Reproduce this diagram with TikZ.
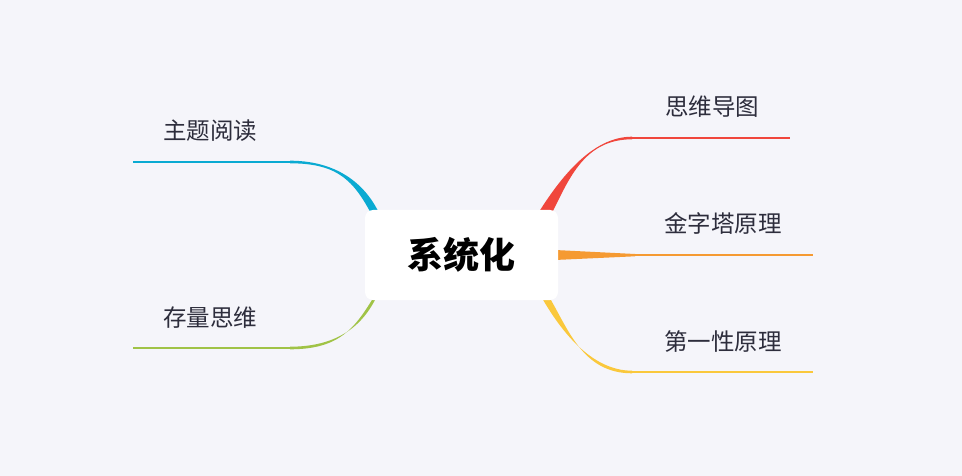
\documentclass[tikz,border=0pt]{standalone}
\usepackage{fontspec}
\setmainfont{Noto Sans CJK SC}
\definecolor{bg}{HTML}{F5F5FA}
\definecolor{cred}{HTML}{F0463C}
\definecolor{corange}{HTML}{F59A32}
\definecolor{cyellow}{HTML}{FAC83C}
\definecolor{cblue}{HTML}{0AAAD2}
\definecolor{cgreen}{HTML}{A0C346}
\definecolor{ctext}{HTML}{2D2D3C}
\newcommand{\branch}[6]{% colour, start, bend end, line end, direction, start bend dir
  \fill[#1] ($(#2)+(-3,-3)$) .. controls ($(#2)+(#5*20,#6*40)$) and ($(#3)+(-#5*40,-1.3)$) .. ($(#3)+(0,-1.3)$)
    -- ($(#3)+(0,1.3)$) .. controls ($(#3)+(-#5*50,1.3)$) and ($(#2)+(#5*28,#6*36)$) .. ($(#2)+(#5*8,3)$) -- cycle;
  \draw[#1,line width=2.6] (#3) -- (#4);}
\begin{document}
\begin{tikzpicture}[x=1pt,y=-1pt,
  topic/.style={font=\fontsize{23.5}{28}\selectfont,text=ctext,anchor=base}]
\usetikzlibrary{calc}
\fill[bg] (0,0) rectangle (962,476);

% right side
\coordinate (rs1) at (540,218); \coordinate (rb1) at (632,138); \coordinate (re1) at (790,138);
\coordinate (rs3) at (540,292); \coordinate (rb3) at (632,372); \coordinate (re3) at (813,372);
\coordinate (rs2) at (555,255); \coordinate (rb2) at (635,255); \coordinate (re2) at (813,255);
\branch{cred}{rs1}{rb1}{re1}{1}{-1}
\branch{cyellow}{rs3}{rb3}{re3}{1}{1}
\fill[corange] (555,250) -- (635,254) -- (635,256.3) -- (555,260) -- cycle;
\draw[corange,line width=2.6] (rb2) -- (re2);

% left side
\coordinate (ls1) at (383,218); \coordinate (lb1) at (290,162); \coordinate (le1) at (133,162);
\coordinate (ls2) at (383,292); \coordinate (lb2) at (290,348); \coordinate (le2) at (133,348);
\branch{cblue}{ls1}{lb1}{le1}{-1}{-1}
\branch{cgreen}{ls2}{lb2}{le2}{-1}{1}

% center
\node[fill=white,rounded corners=8,minimum width=193,minimum height=90,
  font=\fontsize{36}{40}\selectfont\bfseries] (root) at (461.5,255) {系统化};

\node[topic] (mind) at (712,116) {思维导图};
\node[topic] (pyramid) at (723,233) {金字塔原理};
\node[topic] (first) at (723,350) {第一性原理};
\node[topic] (reading) at (210,140) {主题阅读};
\node[topic] (stock) at (210,326) {存量思维};
\end{tikzpicture}
\end{document}
